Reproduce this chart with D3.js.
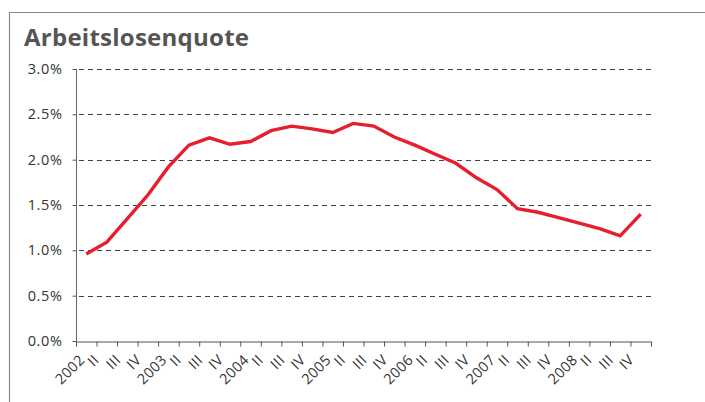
<!DOCTYPE html>
<html>
<head>
<meta charset="utf-8">
<script src="https://cdn.jsdelivr.net/npm/d3@7"></script>
<style>
  body { margin: 0; background: #fff; }
  svg { display: block; }
</style>
</head>
<body>
<div id="chart"></div>
<script>
// Quarterly unemployment rate, 2002 Q1 – 2008 Q4
const years    = ['2002', '2003', '2004', '2005', '2006', '2007', '2008'];
const quarters = ['I', 'II', 'III', 'IV'];
const rate = [
  0.96, 1.09, 1.35, 1.61,
  1.92, 2.16, 2.24, 2.17,
  2.20, 2.32, 2.37, 2.34,
  2.30, 2.40, 2.37, 2.25,
  2.16, 2.06, 1.96, 1.80,
  1.67, 1.46, 1.42, 1.36,
  1.30, 1.24, 1.16, 1.40
];
const yTicks = [0, 0.5, 1.0, 1.5, 2.0, 2.5, 3.0];

// category keys + labels (year on Q1, roman numeral otherwise)
const keys   = years.flatMap(y => quarters.map(q => `${y} ${q}`));
const labels = years.flatMap(y => quarters.map(q => q === 'I' ? y : q));

const W = 705, H = 402;
const X0 = 76, X1 = 651, Y0 = 341, Y1 = 69;
const FONT = '"Open Sans", "Noto Sans", sans-serif';

const svg = d3.select('#chart').append('svg')
  .attr('width', W).attr('height', H);

// frame (cut off at right / bottom like the source)
svg.append('path')
  .attr('d', `M9.5,${H}V12.5H${W}`)
  .attr('fill', 'none')
  .attr('stroke', '#8a8a8a')
  .attr('stroke-width', 1.2);

svg.append('text')
  .attr('x', 24).attr('y', 46)
  .attr('font-family', FONT)
  .attr('font-weight', 700)
  .attr('font-size', 24)
  .attr('letter-spacing', 0.25)
  .attr('fill', '#555')
  .text('Arbeitslosenquote');

const x    = d3.scaleBand().domain(keys).range([X0, X1]);
const xEdg = d3.scaleLinear().domain([0, keys.length]).range([X0, X1]);
const y    = d3.scaleLinear().domain([0, 3]).range([Y0, Y1]);

// dashed gridlines
svg.append('g').selectAll('line')
  .data(yTicks.filter(d => d > 0))
  .join('line')
  .attr('x1', X0 + 3).attr('x2', X1 + 2)
  .attr('y1', d => Math.round(y(d)) + 0.5)
  .attr('y2', d => Math.round(y(d)) + 0.5)
  .attr('stroke', '#444')
  .attr('stroke-width', 1)
  .attr('stroke-dasharray', '5,4');

// y axis
const yAxis = svg.append('g')
  .attr('transform', `translate(${X0 + 0.5},0)`)
  .call(d3.axisLeft(y).tickValues(yTicks).tickSize(4).tickPadding(10)
    .tickFormat(d => d3.format('.1f')(d) + '%'));
yAxis.select('.domain').attr('stroke', '#666').attr('d', `M0,${Y1}V${Y0}`);
yAxis.selectAll('.tick line').attr('stroke', '#555');
yAxis.selectAll('.tick text')
  .attr('font-family', FONT).attr('font-size', 14.5)
  .attr('letter-spacing', 0.6)
  .attr('fill', '#333');

// x axis: ticks at category boundaries
const xAxis = svg.append('g')
  .attr('transform', `translate(0,${Y0 + 0.5})`)
  .call(d3.axisBottom(xEdg).tickValues(d3.range(keys.length + 1)).tickSize(5).tickFormat(''));
xAxis.select('.domain').attr('stroke', '#555');
xAxis.selectAll('.tick line').attr('stroke', '#555');

// rotated category labels
svg.append('g').selectAll('text')
  .data(keys)
  .join('text')
  .attr('font-family', FONT)
  .attr('font-size', 14.5)
  .attr('letter-spacing', 0.3)
  .attr('fill', '#333')
  .attr('text-anchor', 'end')
  .text((d, i) => labels[i])
  .attr('transform', function (d) {
    const L = this.getComputedTextLength();
    const cx = x(d) + x.bandwidth() / 2 - 9 + 0.24 * L;
    return `translate(${cx},361) rotate(-45)`;
  });

// line
const line = d3.line()
  .x((d, i) => x(keys[i]) + x.bandwidth() / 2)
  .y(d => y(d));

svg.append('path')
  .datum(rate)
  .attr('d', line)
  .attr('fill', 'none')
  .attr('stroke', '#e61e2e')
  .attr('stroke-width', 3.4)
  .attr('stroke-linejoin', 'miter');
</script>
</body>
</html>
